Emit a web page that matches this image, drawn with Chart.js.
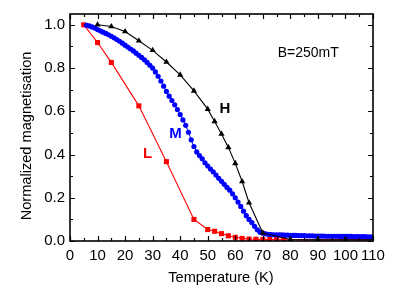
<!DOCTYPE html>
<html>
<head>
<meta charset="utf-8">
<script src="https://cdn.jsdelivr.net/npm/chart.js@4/dist/chart.umd.min.js"></script>
<style>
html,body{margin:0;padding:0;background:#fff;}
#wrap{width:409px;height:297px;position:relative;}
</style>
</head>
<body>
<div id="wrap"><canvas id="c"></canvas></div>
<script>
// ---- data ----
const xTicks = [0,10,20,30,40,50,60,70,80,90,100,110];
const xMinorTicks = [5,15,25,35,45,55,65,75,85,95,105];
const yTicks = [0,0.2,0.4,0.6,0.8,1.0];
const yMinorTicks = [0.1,0.3,0.5,0.7,0.9];

const tempH = [10,15,20,25,30,35,40,45,50,52.5,55,57.5,60,62.5,65,70,80,90,100,110];
const magH  = [1.0,0.992,0.969,0.926,0.882,0.828,0.768,0.694,0.610,0.553,0.495,0.433,0.359,0.275,0.177,0.037,0.007,0.006,0.006,0.005];

const tempL = [5,10,15,25,35,45,50,52.5,55,57.5,60,62.5,65,67.5,70,72.5,75,77.5,80,85,90,95,100,105,110];
const magL  = [1.0,0.918,0.826,0.625,0.367,0.100,0.053,0.045,0.034,0.024,0.017,0.012,0.009,0.008,0.007,0.007,0.007,0.006,0.006,0.005,0.005,0.005,0.005,0.005,0.005];

const tempM = [6,7,8,9,10,11,12,13,14,15,16,17,18,19,20,21,22,23,24,25,26,27,28,29,30,31,32,33,34,35,36,37,38,39,40,41,42,43,44,45,46,47,48,49,50,51,52,53,54,55,56,57,58,59,60,61,62,63,64,65,66,67,68,69,70,71,72,73,74,75,76,77,78,79,80,81,82,83,84,85,86,87,88,89,90,91,92,93,94,95,96,97,98,99,100,101,102,103,104,105,106,107,108,109,110];
const magM  = [0.998,0.995,0.990,0.985,0.978,0.972,0.966,0.960,0.954,0.947,0.940,0.932,0.924,0.915,0.906,0.897,0.888,0.879,0.869,0.859,0.849,0.838,0.826,0.813,0.800,0.782,0.762,0.740,0.716,0.692,0.670,0.650,0.630,0.608,0.585,0.560,0.535,0.503,0.468,0.437,0.412,0.395,0.380,0.362,0.347,0.333,0.320,0.305,0.290,0.276,0.262,0.248,0.235,0.218,0.200,0.180,0.160,0.138,0.117,0.100,0.085,0.068,0.052,0.041,0.036,0.033,0.031,0.030,0.029,0.029,0.028,0.028,0.027,0.027,0.026,0.026,0.026,0.025,0.025,0.025,0.024,0.024,0.024,0.023,0.023,0.023,0.023,0.022,0.022,0.022,0.022,0.022,0.021,0.021,0.021,0.021,0.021,0.020,0.020,0.020,0.020,0.020,0.019,0.019,0.019];

const labels = [
  {text:'H', x:56.2, y:0.611, color:'#000000', bold:true},
  {text:'M', x:38.3, y:0.495, color:'#0000ff', bold:true},
  {text:'L', x:28.2, y:0.403, color:'#ff0000', bold:true},
  {text:'B=250mT', x:86.5, y:0.871, color:'#000000', bold:false}
];
const xTitle = 'Temperature (K)';
const yTitle = 'Normalized magnetisation';

// ---- chart ----
const FONT = "'Liberation Sans', Arial, Helvetica, sans-serif";
const pts = (xs, ys) => xs.map((x,i)=>({x:x, y:ys[i]}));

const framePlugin = {
  id:'frame',
  afterDatasetsDraw(chart){
    const {ctx, chartArea:a, scales:{x,y}} = chart;
    ctx.save();
    ctx.strokeStyle = '#000';
    ctx.lineWidth = 1.6;
    ctx.strokeRect(a.left, a.top, a.right-a.left, a.bottom-a.top);
    ctx.lineWidth = 1.2;
    const tick = (vals, len, horiz) => {
      vals.forEach(v=>{
        if (horiz) {
          const px = Math.round(x.getPixelForValue(v))+0.5;
          ctx.beginPath();
          ctx.moveTo(px, a.bottom); ctx.lineTo(px, a.bottom-len);
          ctx.moveTo(px, a.top); ctx.lineTo(px, a.top+len);
          ctx.stroke();
        } else {
          const py = Math.round(y.getPixelForValue(v))+0.5;
          ctx.beginPath();
          ctx.moveTo(a.left, py); ctx.lineTo(a.left+len, py);
          ctx.moveTo(a.right, py); ctx.lineTo(a.right-len, py);
          ctx.stroke();
        }
      });
    };
    tick(xTicks, 5, true); tick(xMinorTicks, 3, true);
    tick(yTicks, 5, false); tick(yMinorTicks, 3, false);
    // annotations
    ctx.textAlign='center'; ctx.textBaseline='middle';
    labels.forEach(l=>{
      ctx.fillStyle = l.color;
      ctx.font = (l.bold?'bold 15px ':'14px ') + FONT;
      ctx.fillText(l.text, x.getPixelForValue(l.x), y.getPixelForValue(l.y));
    });
    // axis titles
    ctx.fillStyle='#000';
    ctx.font = '14.6px ' + FONT;
    ctx.fillText(xTitle, 221, 278);
    ctx.translate(27, 136);
    ctx.rotate(-Math.PI/2);
    ctx.fillText(yTitle, 0, 0);
    ctx.restore();
  }
};

new Chart(document.getElementById('c'), {
  type:'line',
  data:{
    datasets:[
      {label:'H', data:pts(tempH,magH), borderColor:'#000', backgroundColor:'#000', borderWidth:1.1,
       pointStyle:'triangle', pointRadius:ctx => (ctx.parsed && ctx.parsed.x >= 110 ? 0 : 3.6), pointBorderWidth:0, order:0},
      {label:'M', data:pts(tempM,magM), borderColor:'#0000ff', backgroundColor:'#0000ff', borderWidth:1,
       pointStyle:'circle', pointRadius:2.6, pointBorderWidth:0, order:1},
      {label:'L', data:pts(tempL,magL), borderColor:'#ff0000', backgroundColor:'#ff0000', borderWidth:1.1,
       pointStyle:'rect', pointRadius:ctx => (ctx.parsed && ctx.parsed.x > 78 ? 0 : 3.6), pointBorderWidth:0, order:2}
    ]
  },
  options:{
    responsive:true, maintainAspectRatio:false, animation:false,
    layout:{padding:{left:0, right:36, top:13, bottom:0}},
    plugins:{legend:{display:false}, tooltip:{enabled:false}},
    elements:{line:{tension:0}},
    scales:{
      x:{type:'linear', min:0, max:110,
         grid:{display:false, drawTicks:false}, border:{display:false},
         ticks:{color:'#000', font:{family:FONT, size:15}, padding:6, maxRotation:0, autoSkip:false,
                callback:v=>String(v)},
         afterBuildTicks:s=>{s.ticks = xTicks.map(v=>({value:v}));},
         afterFit:s=>{s.height = 56;}},
      y:{type:'linear', min:0, max:1.05,
         grid:{display:false, drawTicks:false}, border:{display:false},
         ticks:{color:'#000', font:{family:FONT, size:15}, padding:5,
                callback:v=>Number(v).toFixed(1)},
         afterBuildTicks:s=>{s.ticks = yTicks.map(v=>({value:v}));},
         afterFit:s=>{s.width = 70;}}
    }
  },
  plugins:[framePlugin]
});
</script>
</body>
</html>
